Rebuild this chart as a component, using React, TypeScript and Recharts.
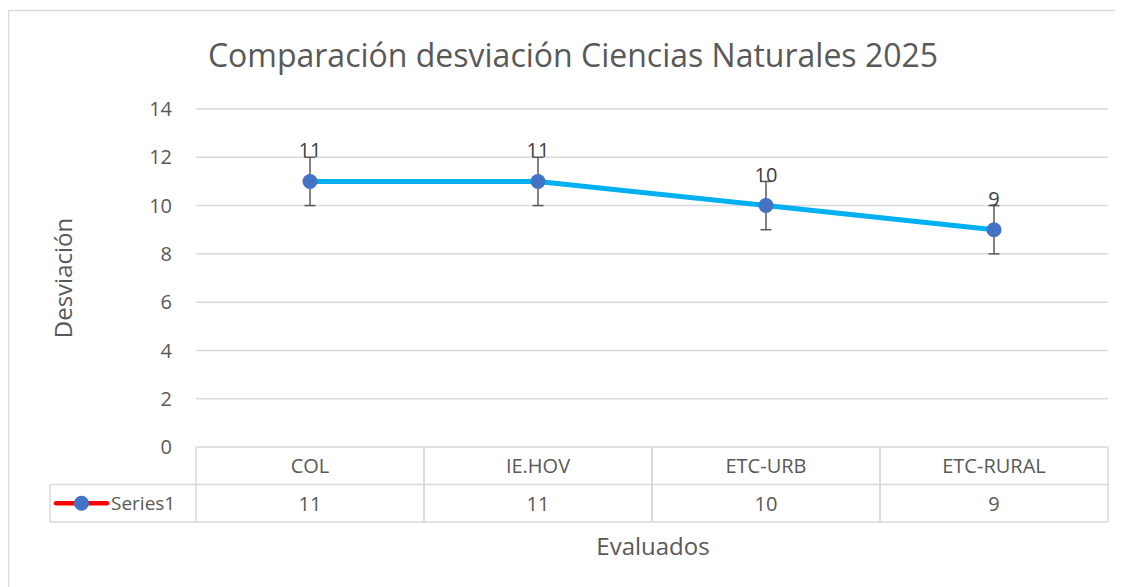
import React from 'react';
import { LineChart, Line, XAxis, YAxis, CartesianGrid, ErrorBar, LabelList, Customized } from 'recharts';

const categories = ['COL', 'IE.HOV', 'ETC-URB', 'ETC-RURAL'];
const values = [11, 11, 10, 9];
const errors = [1, 1, 1, 1];
const yTicks = [0, 2, 4, 6, 8, 10, 12, 14];
const seriesName = 'Series1';
const title = 'Comparación desviación Ciencias Naturales 2025';
const yLabel = 'Desviación';
const xLabel = 'Evaluados';

const data = categories.map((c, i) => ({ name: c, value: values[i], err: errors[i] }));

const W = 1115;
const H = 579;
const M = { top: 101, right: 15, bottom: 0, left: 128 };
const Y_AXIS_W = 60;
const X_AXIS_H = 140;
const PLOT_LEFT = M.left + Y_AXIS_W;
const PLOT_W = W - M.right - PLOT_LEFT;
const BAND = PLOT_W / categories.length;
const ROW_H = 37.5;
const FONT = '"Open Sans", sans-serif';
const GRID = '#D9D9D9';
const TEXT = '#595959';

const TableTick = (props: any) => {
  const { x, y, payload, index } = props;
  const half = BAND / 2;
  const val = data[index]?.value;
  return (
    <g>
      <line x1={x - half} x2={x - half} y1={y} y2={y + 2 * ROW_H} stroke={GRID} strokeWidth={1.5} />
      <line x1={x + half} x2={x + half} y1={y} y2={y + 2 * ROW_H} stroke={GRID} strokeWidth={1.5} />
      <line x1={x - half} x2={x + half} y1={y + ROW_H} y2={y + ROW_H} stroke={GRID} strokeWidth={1.5} />
      <line x1={x - half} x2={x + half} y1={y + 2 * ROW_H} y2={y + 2 * ROW_H} stroke={GRID} strokeWidth={1.5} />
      <text x={x} y={y + ROW_H / 2} textAnchor="middle" dominantBaseline="central" fontSize={20} fill={TEXT} fontFamily={FONT}>
        {payload.value}
      </text>
      <text x={x} y={y + ROW_H * 1.5} textAnchor="middle" dominantBaseline="central" fontSize={20} fill={TEXT} fontFamily={FONT}>
        {val}
      </text>
      {index === 0 && (
        <g>
          <line x1={42} x2={x - half} y1={y + ROW_H} y2={y + ROW_H} stroke={GRID} strokeWidth={1.5} />
          <line x1={42} x2={x - half} y1={y + 2 * ROW_H} y2={y + 2 * ROW_H} stroke={GRID} strokeWidth={1.5} />
          <line x1={42} x2={42} y1={y + ROW_H} y2={y + 2 * ROW_H} stroke={GRID} strokeWidth={1.5} />
          <line x1={48} x2={99} y1={y + ROW_H * 1.5} y2={y + ROW_H * 1.5} stroke="#FF0000" strokeWidth={4.5} strokeLinecap="round" />
          <circle cx={73.5} cy={y + ROW_H * 1.5} r={7.5} fill="#4472C4" />
          <text x={103} y={y + ROW_H * 1.5} textAnchor="start" dominantBaseline="central" fontSize={19} fill={TEXT} fontFamily={FONT}>
            {seriesName}
          </text>
        </g>
      )}
    </g>
  );
};

const Decor = () => (
  <g>
    <line x1={0.5} x2={W} y1={2.5} y2={2.5} stroke={GRID} strokeWidth={1.5} />
    <line x1={0.5} x2={0.5} y1={2.5} y2={H} stroke={GRID} strokeWidth={1.5} />
    <text x={565} y={46} textAnchor="middle" dominantBaseline="central" fontSize={32} fill={TEXT} fontFamily={FONT}>
      {title}
    </text>
    <text x={54} y={270} textAnchor="middle" dominantBaseline="central" fontSize={24} fill={TEXT} fontFamily={FONT} transform="rotate(-90 54 270)">
      {yLabel}
    </text>
    <text x={645} y={537} textAnchor="middle" dominantBaseline="central" fontSize={24} fill={TEXT} fontFamily={FONT}>
      {xLabel}
    </text>
  </g>
);

export default function App() {
  return (
    <div style={{ width: W, height: H, background: '#fff' }}>
      <LineChart width={W} height={H} data={data} margin={M}>
        <CartesianGrid vertical={false} stroke={GRID} strokeWidth={1.5} />
        <XAxis
          dataKey="name"
          axisLine={false}
          tickLine={false}
          tickSize={0}
          tickMargin={0}
          height={X_AXIS_H}
          padding={{ left: BAND / 2, right: BAND / 2 }}
          tick={<TableTick />}
          interval={0}
        />
        <YAxis
          width={Y_AXIS_W}
          domain={[0, 14]}
          ticks={yTicks}
          interval={0}
          axisLine={false}
          tickLine={false}
          tickSize={0}
          tickMargin={24}
          tick={{ fontSize: 20, fill: TEXT, fontFamily: FONT }}
        />
        <Line
          dataKey="value"
          type="linear"
          stroke="#00B0F0"
          strokeWidth={5}
          dot={{ r: 7.5, fill: '#4472C4', stroke: 'none' }}
          activeDot={false}
          isAnimationActive={false}
        >
          <ErrorBar dataKey="err" width={5.5} stroke="#595959" strokeWidth={1.5} direction="y" />
          <LabelList dataKey="value" position="top" offset={24} fontSize={20} fill="#404040" fontFamily={FONT} />
        </Line>
        <Customized component={Decor} />
      </LineChart>
    </div>
  );
}
